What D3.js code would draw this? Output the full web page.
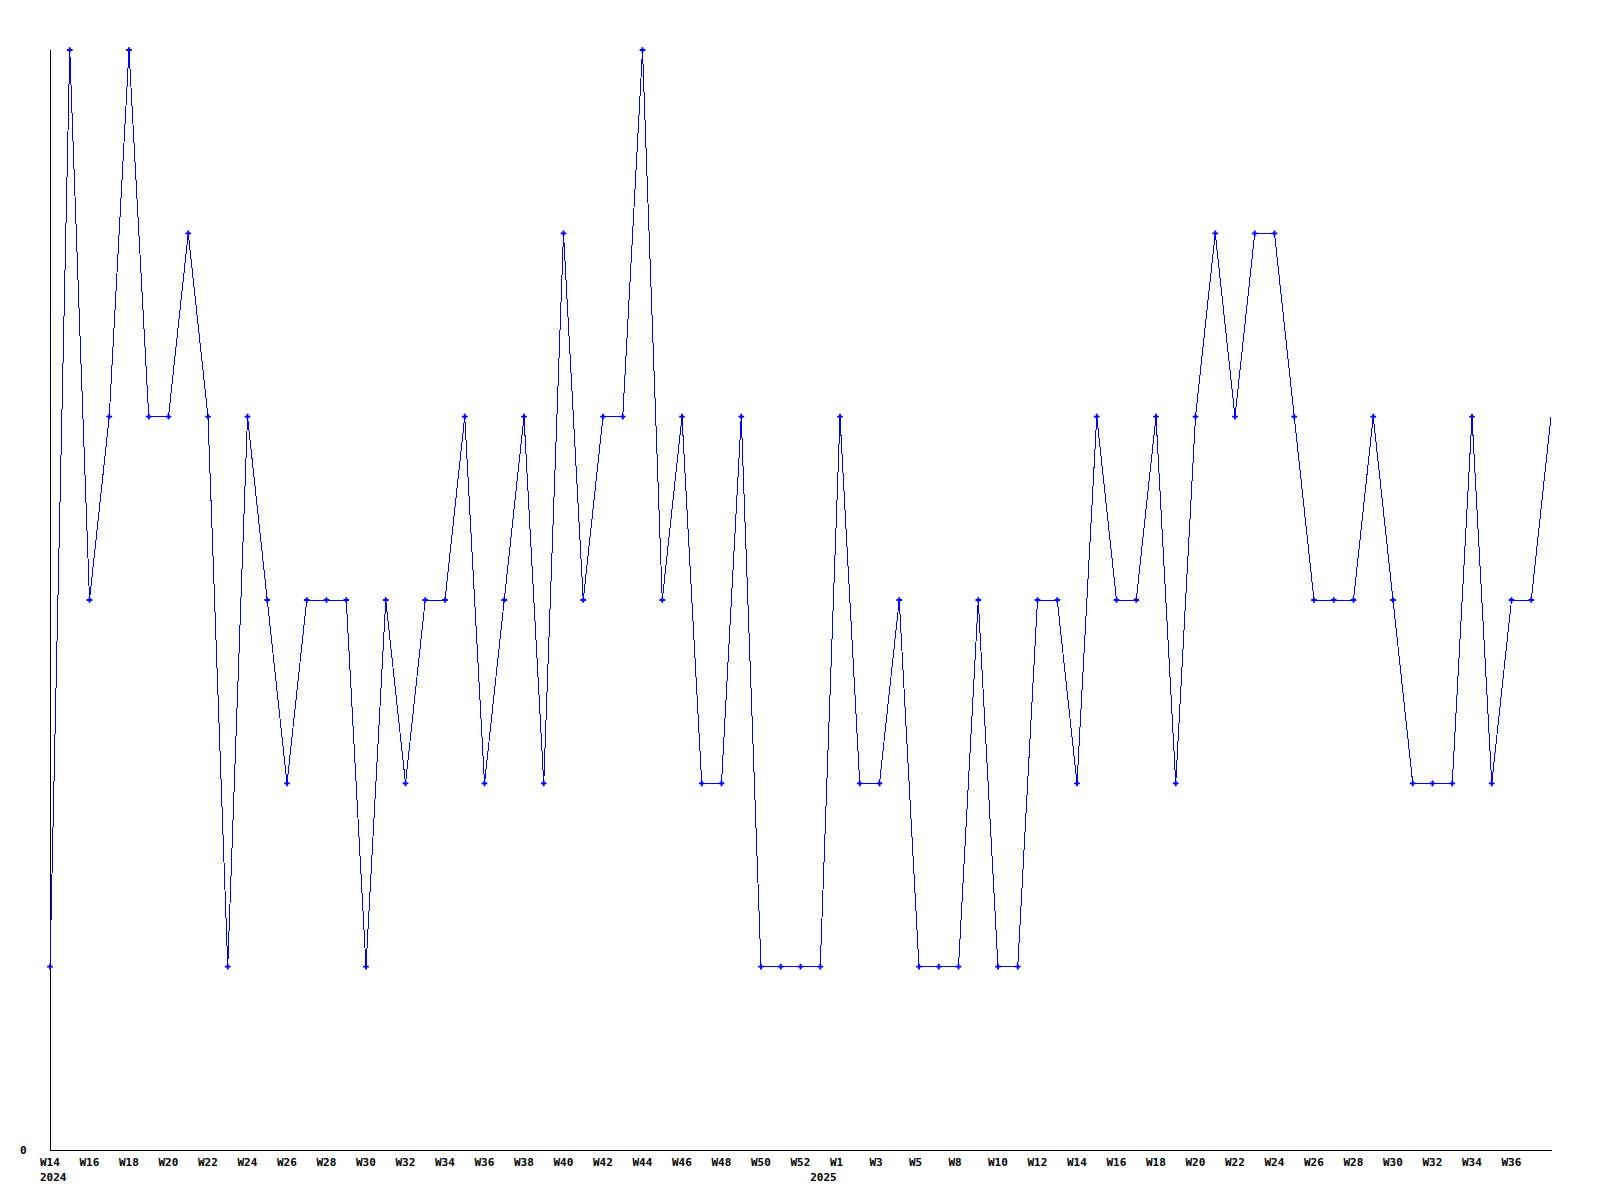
<!DOCTYPE html>
<html>
<head>
<meta charset="utf-8">
<script src="https://cdn.jsdelivr.net/npm/d3@7"></script>
<style>
  html, body { margin: 0; padding: 0; background: #fff; }
  svg { display: block; }
  text { font-family: "DejaVu Sans Mono", "Liberation Mono", monospace; font-weight: bold; font-size: 11px; fill: #000; }
</style>
</head>
<body>
<svg width="1600" height="1200"></svg>
<script>
// weekly points, one label per week (index 39 is the first 2025 point)
var weeks = ["W14","W15","W16","W17","W18","W19","W20","W21","W22","W23",
             "W24","W25","W26","W27","W28","W29","W30","W31","W32","W33",
             "W34","W35","W36","W37","W38","W39","W40","W41","W42","W43",
             "W44","W45","W46","W47","W48","W49","W50","W51","W52","W53",
             "W1","W2","W3","W4","W5","W6","W8","W9","W10","W11",
             "W12","W13","W14","W15","W16","W17","W18","W19","W20","W21",
             "W22","W23","W24","W25","W26","W27","W28","W29","W30","W31",
             "W32","W33","W34","W35","W36","W37","W38"];
var years = [2024,2024,2024,2024,2024,2024,2024,2024,2024,2024,
             2024,2024,2024,2024,2024,2024,2024,2024,2024,2024,
             2024,2024,2024,2024,2024,2024,2024,2024,2024,2024,
             2024,2024,2024,2024,2024,2024,2024,2024,2024,2025,
             2025,2025,2025,2025,2025,2025,2025,2025,2025,2025,
             2025,2025,2025,2025,2025,2025,2025,2025,2025,2025,
             2025,2025,2025,2025,2025,2025,2025,2025,2025,2025,
             2025,2025,2025,2025,2025,2025,2025];
var counts = [1,6,3,4,6,4,4,5,4,1,
              4,3,2,3,3,3,1,3,2,3,
              3,4,2,3,4,2,5,3,4,4,
              6,3,4,2,2,4,1,1,1,1,
              4,2,2,3,1,1,1,3,1,1,
              3,3,2,4,3,3,4,2,4,5,
              4,5,5,4,3,3,3,4,3,2,
              2,2,4,2,3,3,4];
var yTicks = [0];

var svg = d3.select("svg"),
    margin = {top: 50, right: 49, bottom: 50, left: 50},
    width = +svg.attr("width") - margin.left - margin.right,
    height = +svg.attr("height") - margin.top - margin.bottom,
    g = svg.append("g").attr("transform", "translate(" + margin.left + "," + margin.top + ")");

var data = counts.map(function(v, i) { return {i: i, week: weeks[i], year: years[i], value: v}; });
var last = data.length - 1;

var x = d3.scalePoint().domain(d3.range(data.length)).range([0, width]),
    y = d3.scaleLinear().domain([0, d3.max(counts)]).range([height, 0]);

// axes
g.append("line").attr("x1", 0.5).attr("x2", 0.5).attr("y1", 0).attr("y2", height)
    .attr("stroke", "#000").attr("shape-rendering", "crispEdges");
g.append("line").attr("x1", 0).attr("x2", width + 1).attr("y1", height + 0.5).attr("y2", height + 0.5)
    .attr("stroke", "#000").attr("shape-rendering", "crispEdges");

g.selectAll(".ylab").data(yTicks).enter().append("text")
    .attr("x", -30).attr("y", function(d) { return y(d) + 4; })
    .text(function(d) { return d; });

// week labels every second point, left aligned (none for the open last week)
g.selectAll(".wlab").data(data.filter(function(d) { return d.i % 2 === 0 && d.i < last; })).enter().append("text")
    .attr("x", function(d) { return x(d.i) - 10; })
    .attr("y", height + 16)
    .text(function(d) { return d.week; });

// year label where the year starts
g.selectAll(".yrlab").data(data.filter(function(d, i) { return i === 0 || d.year !== data[i - 1].year; })).enter().append("text")
    .attr("x", function(d) { return x(d.i) - 10; })
    .attr("y", height + 31)
    .text(function(d) { return d.year; });

var line = d3.line()
    .x(function(d) { return x(d.i); })
    .y(function(d) { return y(d.value); });

g.append("path")
    .datum(data)
    .attr("fill", "none")
    .attr("stroke", "#0000ff")
    .attr("stroke-width", 1)
    .attr("shape-rendering", "crispEdges")
    .attr("d", line);

// markers (the last, still open week has none)
g.selectAll(".pt").data(data.slice(0, last)).enter().append("path")
    .attr("transform", function(d) { return "translate(" + x(d.i) + "," + y(d.value) + ")"; })
    .attr("d", d3.symbol(d3.symbolCross, 18))
    .attr("fill", "#0000ff");
</script>
</body>
</html>
